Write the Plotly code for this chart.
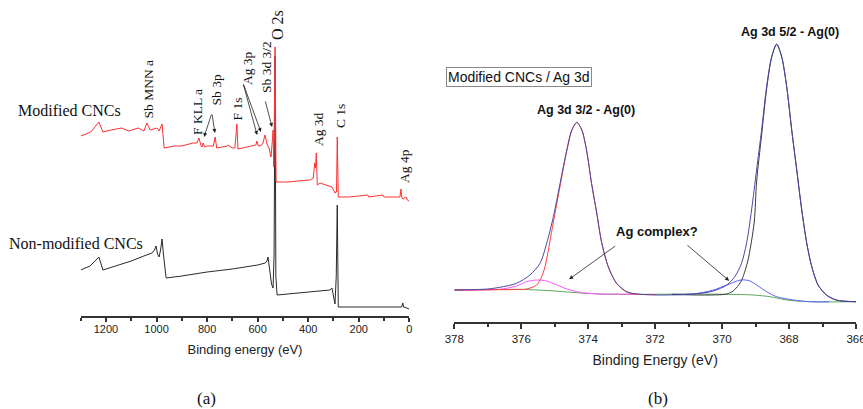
import plotly.graph_objects as go

# ---------------- Panel (a): XPS survey spectra ----------------
survey_mod_ev = [1300, 1260, 1228, 1212, 1180, 1137, 1110, 1073, 1050, 1038, 1025, 998, 990, 978, 970,
                 930, 900, 870, 856, 840, 832, 824, 820, 816, 810, 800, 775, 768, 762, 740, 720, 717,
                 700, 690, 682, 678, 660, 642, 620, 607, 603, 597, 591, 580, 571, 563, 555, 547, 542,
                 539, 536, 531, 527, 523, 480, 440, 393, 380, 374, 371, 368, 364, 353, 330, 306, 298,
                 294, 288, 285, 281, 278, 240, 200, 164, 160, 130, 104, 100, 60, 40, 37, 33, 30, 25,
                 20, 13, 8, 1]
survey_mod_int = [180, 184, 194, 184, 186, 188, 185, 188, 185, 193, 186, 188, 185, 192, 168,
                  170, 170, 172, 173, 173, 178, 170, 169, 173, 169, 170, 170, 179, 168, 169, 170, 171,
                  168, 168, 192, 167, 168, 169, 170, 171, 175, 170, 170, 172, 181, 172, 168, 159, 175,
                  186, 149, 269, 134, 134, 134, 135, 136, 138, 153, 148, 163, 131, 133, 131, 129, 125,
                  123, 124, 179, 119, 119, 119, 120, 121, 119, 120, 121, 119, 119, 119, 119, 127, 119, 117,
                  118, 119, 116, 115]

survey_non_ev = [1300, 1263, 1228, 1220, 1212, 1150, 1100, 1050, 1018, 1008, 1002, 996, 990, 984, 978,
                 972, 962, 900, 800, 700, 600, 570, 563, 559, 553, 545, 539, 535, 531, 528, 523, 450,
                 400, 314, 306, 300, 294, 289, 285, 281, 278, 200, 100, 30, 26, 22, 10, 1]
survey_non_int = [46, 50, 59, 52, 46, 51, 55, 60, 63, 66, 70, 62, 59, 66, 77,
                  60, 38, 40, 44, 47, 51, 53, 55, 59, 45, 32, 28, 60, 260, 40, 21, 23,
                  24, 26, 28, 20, 12, 40, 111, 9, 9, 9, 9, 9, 13, 9, 8, 7]

survey_ticks = [1200, 1000, 800, 600, 400, 200, 0]

# peak labels: (text, eV, intensity at label bottom)
peak_labels = ["Sb MNN a", "F KLL a", "Sb 3p", "F 1s", "Ag 3p", "Sb 3d 3/2", "O 2s", "Ag 3d", "C 1s", "Ag 4p"]
peak_label_ev = [1030, 840, 761, 678, 642, 567, 523, 361, 274, 21]
peak_label_int = [196, 179, 209, 194, 229, 221, 274, 168, 186, 131]
peak_label_size = [13.5, 13.5, 13.5, 13.5, 13.5, 13.5, 16, 13.5, 13.5, 13.5]

# arrows: tail (eV, int) -> head (eV, int)
arrow_tail_ev = [781, 781, 658, 658, 571]
arrow_tail_int = [203, 203, 233, 233, 216]
arrow_head_ev = [812, 769, 602, 587, 543]
arrow_head_int = [179, 183, 181, 184, 189]

# ---------------- Panel (b): Ag 3d high resolution ----------------
env_ev = [378.0, 377.5, 377.0, 376.64, 376.14, 375.74, 375.44, 375.24, 375.04, 374.84, 374.64, 374.49,
          374.34, 374.19, 374.05, 373.90, 373.75, 373.60, 373.40, 373.15, 372.85, 372.55, 371.86,
          370.86, 370.26, 369.86, 369.62, 369.42, 369.27, 369.12, 368.97, 368.82, 368.67, 368.52,
          368.37, 368.22, 368.07, 367.92, 367.77, 367.62, 367.47, 367.32, 367.13, 366.88, 366.58, 366.0]
env_int = [32, 32.3, 33, 34.7, 38.7, 47, 58.7, 78.7, 105.3, 138.7, 172, 192,
           199.7, 192, 172, 138.7, 110, 80, 55.3, 38.7, 30.3, 28, 27,
           28, 31, 37, 45.3, 58.7, 78.7, 112, 152, 192, 235.3, 265.3,
           278, 265.3, 235.3, 192, 152, 112, 78.7, 55.3, 37, 27, 22, 20.3]

ag32_ev = [378.0, 377.0, 376.64, 376.14, 375.84, 375.54, 375.39, 375.29, 375.04, 374.84, 374.64, 374.49,
           374.34, 374.19, 374.05, 373.90, 373.75, 373.60, 373.40, 373.15, 372.85, 372.55, 372.0]
ag32_int = [32, 32.2, 32.3, 32.5, 33, 37, 45.3, 55.3, 100, 136, 171, 191.5,
            199.5, 191.8, 171.8, 138.5, 109.8, 79.8, 55, 38.4, 30, 27.8, 27.5]

cx32_ev = [378.0, 377.0, 376.64, 376.14, 375.84, 375.54, 375.24, 374.94, 374.54, 374.15, 373.65, 373.0, 372.5]
cx32_int = [32, 32.2, 32.7, 36, 40.3, 42, 41, 37, 32, 29.3, 28, 27.8, 27.6]

bg_ev = [378.0, 377.0, 376.14, 375.14, 374.34, 373.65, 372.16, 370.86, 369.86, 369.07, 368.57, 368.07, 367.38, 366.0]
bg_int = [32, 32.4, 32.7, 31.3, 29.3, 28, 27.7, 28, 27.7, 27, 25.3, 22, 20.3, 20.3]

cx52_ev = [371.5, 370.86, 370.26, 369.86, 369.44, 369.19, 368.97, 368.67, 368.37, 367.87, 367.38, 366.8]
cx52_int = [27.8, 28, 32, 37, 42, 41.3, 37, 30.3, 25.3, 22, 20.3, 20.2]

ag52_ev = [371.5, 370.36, 369.86, 369.66, 369.44, 369.24, 369.04, 368.97, 368.82, 368.67, 368.52, 368.37,
           368.22, 368.07, 367.92, 367.77, 367.62, 367.47, 367.32, 367.13, 366.88, 366.58, 366.0]
ag52_int = [27.5, 27, 28, 31.3, 40.3, 60, 100, 140, 187, 233, 264.5, 277.5,
            265, 235, 191.8, 151.8, 111.8, 78.5, 55, 36.8, 26.8, 21.8, 20.2]

hr_ticks = [378, 376, 374, 372, 370, 368, 366]

fig = go.Figure()

# panel (a) traces
fig.add_trace(go.Scatter(x=survey_non_ev, y=survey_non_int, mode="lines",
                         line=dict(color="#2a2a2a", width=1), xaxis="x", yaxis="y", showlegend=False))
fig.add_trace(go.Scatter(x=survey_mod_ev, y=survey_mod_int, mode="lines",
                         line=dict(color="#ff3030", width=1), xaxis="x", yaxis="y", showlegend=False))

# panel (b) traces
def hr(xs, ys, color):
    fig.add_trace(go.Scatter(x=xs, y=ys, mode="lines", line=dict(color=color, width=1, shape="spline", smoothing=0.8),
                             xaxis="x2", yaxis="y2", showlegend=False))

hr(bg_ev, bg_int, "#5aa85a")
hr(cx32_ev, cx32_int, "#ff55ff")
hr(ag32_ev, ag32_int, "#ff4040")
hr(cx52_ev, cx52_int, "#6060ff")
hr(ag52_ev, ag52_int, "#3a3a3a")
hr(env_ev, env_int, "#4848a8")

axis_common = dict(showline=True, linecolor="#333333", linewidth=1.5, ticks="outside", tickwidth=1.5,
                   tickcolor="#333333", showgrid=False, zeroline=False, automargin=False,
                   ticklabeloverflow="allow")

fig.update_layout(
    width=863, height=409,
    margin=dict(l=0, r=0, t=0, b=0, autoexpand=False),
    paper_bgcolor="white", plot_bgcolor="white",
    xaxis=dict(domain=[80.7 / 863, 409.3 / 863], range=[1300, 0], tickvals=survey_ticks, ticklen=4,
               minor=dict(dtick=100, ticks="outside", ticklen=3, tickwidth=1.5, tickcolor="#333333"),
               ticklabelstandoff=-2,
               tickfont=dict(family="Liberation Sans, Arial", size=11, color="#222"),
               title=dict(text="Binding energy (eV)", font=dict(family="Liberation Sans, Arial", size=13, color="#222"),
                          standoff=11),
               anchor="y", **axis_common),
    yaxis=dict(domain=[1 - 316 / 409, 1 - 10 / 409], range=[0, 306], visible=False, anchor="x"),
    xaxis2=dict(domain=[454.3 / 863, 856 / 863], range=[378, 366], tickvals=hr_ticks, ticklen=5,
                minor=dict(dtick=1, ticks="outside", ticklen=3, tickwidth=1.5, tickcolor="#333333"),
                ticklabelstandoff=0,
                tickfont=dict(family="Liberation Sans, Arial", size=11.5, color="#222"),
                title=dict(text="Binding Energy (eV)", font=dict(family="Liberation Sans, Arial", size=14, color="#222"),
                           standoff=12),
                anchor="y2", **axis_common),
    yaxis2=dict(domain=[1 - 322 / 409, 1 - 10 / 409], range=[0, 312], visible=False, anchor="x2"),
)

serif = "Liberation Serif, Times New Roman"
ann = []
for t, ex, iy, sz in zip(peak_labels, peak_label_ev, peak_label_int, peak_label_size):
    ann.append(dict(text=t, x=ex, y=iy, xref="x", yref="y", showarrow=False, textangle=-90,
                    xanchor="center", yanchor="bottom", font=dict(family=serif, size=sz, color="#111")))
for tx, ty, hx, hy in zip(arrow_tail_ev, arrow_tail_int, arrow_head_ev, arrow_head_int):
    ann.append(dict(text="", x=hx, y=hy, ax=tx, ay=ty, xref="x", yref="y", axref="x", ayref="y",
                    showarrow=True, arrowhead=2, arrowsize=1, arrowwidth=0.8, arrowcolor="#222"))
ann.append(dict(text="Modified CNCs", x=16 / 863, y=1 - 110 / 409, xref="paper", yref="paper",
                xanchor="left", yanchor="middle", showarrow=False, font=dict(family=serif, size=16, color="#111")))
ann.append(dict(text="Non-modified CNCs", x=7 / 863, y=1 - 243 / 409, xref="paper", yref="paper",
                xanchor="left", yanchor="middle", showarrow=False, font=dict(family=serif, size=16, color="#111")))
ann.append(dict(text="(a)", x=206 / 863, y=1 - 398 / 409, xref="paper", yref="paper",
                xanchor="center", yanchor="middle", showarrow=False, font=dict(family=serif, size=17, color="#111")))
ann.append(dict(text="(b)", x=657.7 / 863, y=1 - 398 / 409, xref="paper", yref="paper",
                xanchor="center", yanchor="middle", showarrow=False, font=dict(family=serif, size=17, color="#111")))

sans = "Liberation Sans, Arial"
ann.append(dict(text="Modified CNCs / Ag 3d", x=445.7 / 863, y=1 - 77.5 / 409, xref="paper", yref="paper",
                xanchor="left", yanchor="middle", showarrow=False, bordercolor="#888888", borderwidth=1,
                borderpad=1, font=dict(family=sans, size=14, color="#111")))
ann.append(dict(text="<b>Ag 3d 3/2 - Ag(0)</b>", x=374.08, y=212, xref="x2", yref="y2", showarrow=False,
                xanchor="center", yanchor="middle", font=dict(family=sans, size=12.5, color="#111")))
ann.append(dict(text="<b>Ag 3d 5/2 - Ag(0)</b>", x=367.97, y=289.7, xref="x2", yref="y2", showarrow=False,
                xanchor="center", yanchor="middle", font=dict(family=sans, size=12.5, color="#111")))
ann.append(dict(text="<b>Ag complex?</b>", x=371.95, y=90.3, xref="x2", yref="y2", showarrow=False,
                xanchor="center", yanchor="middle", font=dict(family=sans, size=13, color="#111")))
ann.append(dict(text="", x=374.57, y=42.7, ax=373.15, ay=77, xref="x2", yref="y2", axref="x2", ayref="y2",
                showarrow=True, arrowhead=2, arrowsize=1, arrowwidth=0.8, arrowcolor="#222"))
ann.append(dict(text="", x=369.79, y=41.3, ax=371.08, ay=78, xref="x2", yref="y2", axref="x2", ayref="y2",
                showarrow=True, arrowhead=2, arrowsize=1, arrowwidth=0.8, arrowcolor="#222"))

fig.update_layout(annotations=ann)
fig.write_html("out.html", config={"displayModeBar": False},
               post_script="document.body.style.margin='0';document.body.style.overflow='hidden';")
